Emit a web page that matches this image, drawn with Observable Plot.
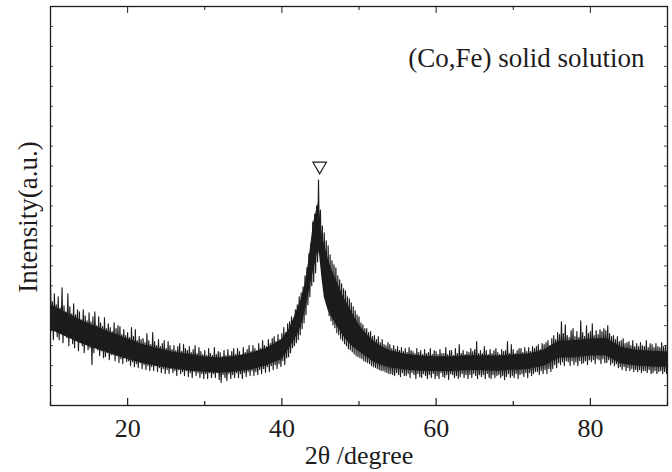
<!DOCTYPE html>
<html><head><meta charset="utf-8">
<script src="https://cdn.jsdelivr.net/npm/d3@7"></script>
<script src="https://cdn.jsdelivr.net/npm/@observablehq/plot@0.6"></script>
<style>
body{margin:0;background:#fff}
svg, svg text{font-family:"Liberation Serif",serif !important;}
</style>
</head><body><div id="chart"></div>
<script>
const scanStart = 10, scanStep = 0.125;
const intensity = [
 600,375,520,330,560,395,505,345,   545,330,490,370,590,315,500,355,
 470,340,560,300,495,345,460,310,   510,290,455,330,480,275,470,320,
 430,300,480,265,450,310,425,280,   465,290,420,205,445,265,470,295,
 400,280,445,250,415,275,395,240,   440,245,385,265,410,230,390,255,
 370,255,415,225,385,250,400,215,   395,235,355,210,380,240,350,220,
 365,225,340,200,390,220,345,195,   380,210,325,190,345,215,330,185,
 335,205,315,180,360,200,325,175,   305,195,365,175,320,200,300,170,
 330,190,295,165,310,185,325,160,   285,180,320,160,300,185,280,165,
 300,175,275,150,295,180,310,160,   270,170,305,150,285,175,275,145,
 295,165,265,140,280,170,300,150,   260,165,290,140,270,160,255,135,
 275,160,250,135,285,165,260,140,   250,160,290,140,255,165,270,130,
 265,115,245,155,275,140,250,125,   280,160,250,135,270,155,285,140,
 255,165,285,140,270,160,250,135,   290,165,265,145,280,170,300,150,
 270,175,300,150,285,170,275,155,   310,180,285,160,325,185,300,165,
 295,195,330,170,310,200,335,180,   345,205,320,185,355,210,330,195,
 360,225,390,205,365,240,410,245,   420,265,445,290,425,300,480,315,
 505,330,545,355,565,385,595,415,   650,455,690,505,760,545,810,600,
 920,620,960,665,1000,720,1130,760, 980,700,900,615,865,560,825,515,
 800,450,755,425,725,405,705,390,   690,365,650,355,630,335,610,325,
 585,310,575,300,545,285,535,280,   515,270,495,260,475,250,455,245,
 445,240,415,235,405,225,385,220,   385,215,365,210,370,200,345,195,
 350,190,330,185,345,180,315,175,   330,175,305,170,300,165,315,160,
 305,160,285,155,300,150,280,165,   295,155,275,145,290,165,270,150,
 285,150,265,160,290,140,275,165,   270,155,260,135,285,160,265,145,
 275,140,255,160,280,150,260,135,   265,155,285,140,255,160,275,135,
 270,150,255,135,280,165,260,145,   260,140,290,155,255,130,275,160,
 275,155,250,140,285,150,260,135,   305,145,260,160,275,140,255,155,
 270,135,265,155,285,140,270,160,   280,150,320,135,260,155,275,145,
 260,155,295,135,275,160,255,140,   280,135,260,155,275,140,285,150,
 265,155,255,140,280,150,270,130,   275,145,320,160,260,140,305,150,
 280,140,260,160,275,135,285,155,   285,160,265,145,290,165,270,140,
 290,165,270,150,295,160,285,170,   295,170,305,155,280,175,310,160,
 305,180,315,160,325,185,300,170,   335,185,350,205,330,190,365,215,
 355,205,420,220,360,200,405,225,   350,220,340,200,375,225,385,205,
 345,220,370,200,340,225,425,210,   365,215,345,225,400,205,360,230,
 370,220,410,230,350,210,375,235,   355,230,380,210,370,235,385,215,
 375,215,400,230,360,205,345,215,   350,200,330,210,345,190,320,195,
 325,180,335,195,310,175,315,190,   320,175,300,185,325,170,295,180,
 310,170,295,180,315,165,300,175,   295,175,325,165,290,180,310,160,
 305,165,290,175,310,160,295,170,   290,175,315,160,295,170,300,160,
 290
];
// dense core of the noisy trace (lower / upper edge)
const bandAngle = [10,12,14,16,18,20,22,24,26,28,30,32,34,36,38,40,41,42,42.5,43,43.5,43.8,44.1,44.4,44.7,44.9,45.2,45.5,46,46.5,47.2,48,49,50,51,52,53,54,56,58,60,62,64,66,68,70,72,74,75,76,78,80,82,83,84,86,88,90];
const bandHigh  = [505,466,426,393,363,334,305,286,267,257,243,238,247,262,286,329,385,480,529,604,725,819,912,962,1014,966,864,808,734,677,615,544,473,404,357,319,295,276,257,248,244,244,249,249,248,253,258,277,302,322,326,332,336,316,292,277,272,268];
const bandLow   = [380,344,309,282,257,231,210,194,183,173,167,162,168,178,199,231,290,355,396,471,565,621,673,723,786,749,636,542,476,438,395,346,302,271,243,216,200,189,178,172,171,171,176,176,172,177,182,198,218,238,239,248,249,229,208,198,193,192];
// peak marker
const peakAngle = [44.9];
const peakMarkY = [1200];
// axis ticks and texts
const xMajor = [20, 40, 60, 80];
const xMinor = [10, 30, 50, 70, 90];
const yTickValues = d3.range(0, 2001, 100);
const xTitle = "2θ /degree";
const yTitle = "Intensity(a.u.)";
const annotation = "(Co,Fe) solid solution";

const W = 672, H = 472, mL = 50, mR = 5, mT = 6, mB = 67;
const plotW = W - mL - mR, plotH = H - mT - mB;
const ink = "#1e1b1c";
const serif = "Liberation Serif";

const scan = intensity.map((v, i) => ({angle: scanStart + i * scanStep, intensity: v}));
const band = bandAngle.map((a, i) => ({angle: a, low: bandLow[i], high: bandHigh[i]}));
const peaks = peakAngle.map((a, i) => ({angle: a, y: peakMarkY[i]}));

const chart = Plot.plot({
  width: W, height: H,
  marginLeft: mL, marginRight: mR, marginTop: mT, marginBottom: mB,
  style: {fontFamily: serif, fontSize: "26px", background: "#fff", color: ink},
  x: {domain: [10, 90]},
  y: {domain: [0, 2000], axis: null},
  marks: [
    Plot.areaY(band, {x: "angle", y1: "low", y2: "high", fill: ink}),
    Plot.lineY(scan, {x: "angle", y: "intensity", stroke: ink, strokeWidth: 1.15}),
    Plot.dot(peaks, {x: "angle", y: "y", symbol: "triangle", rotate: 180, r: 5, stroke: ink, fill: "none", strokeWidth: 1.2}),
    Plot.frame({stroke: ink, strokeWidth: 1.3}),
    Plot.tickX(xMajor, {x: d => d, insetTop: plotH - 7, stroke: ink, strokeWidth: 1.2}),
    Plot.tickX(xMinor, {x: d => d, insetTop: plotH - 4, stroke: ink, strokeWidth: 1.2}),
    Plot.tickX(xMajor, {x: d => d, insetBottom: plotH - 7, stroke: ink, strokeWidth: 1}),
    Plot.tickX(xMinor, {x: d => d, insetBottom: plotH - 4, stroke: ink, strokeWidth: 1}),
    Plot.tickY(yTickValues, {y: d => d, insetRight: plotW - 3, stroke: ink, strokeWidth: 0.8}),
    Plot.tickY(yTickValues, {y: d => d, insetLeft: plotW - 3, stroke: ink, strokeWidth: 0.8}),
    Plot.axisX({ticks: xMajor, tickSize: 0, tickPadding: 13, label: null, fontSize: 26, fontFamily: serif, fill: ink}),
    Plot.text([xTitle], {frameAnchor: "bottom", text: d => d, dy: 58, fontSize: 26, fontFamily: serif, fill: ink}),
    Plot.text([yTitle], {frameAnchor: "left", text: d => d, rotate: -90, textAnchor: "middle", dx: -22, dy: 11, fontSize: 27, fontFamily: serif, fill: ink}),
    Plot.text([annotation], {frameAnchor: "top-right", text: d => d, textAnchor: "end", dx: -23, dy: 41, fontSize: 27, fontFamily: serif, fill: ink})
  ]
});
d3.select(chart).selectAll("g, text").attr("font-family", serif).style("font-family", serif);
document.getElementById("chart").append(chart);
</script>
</body></html>
